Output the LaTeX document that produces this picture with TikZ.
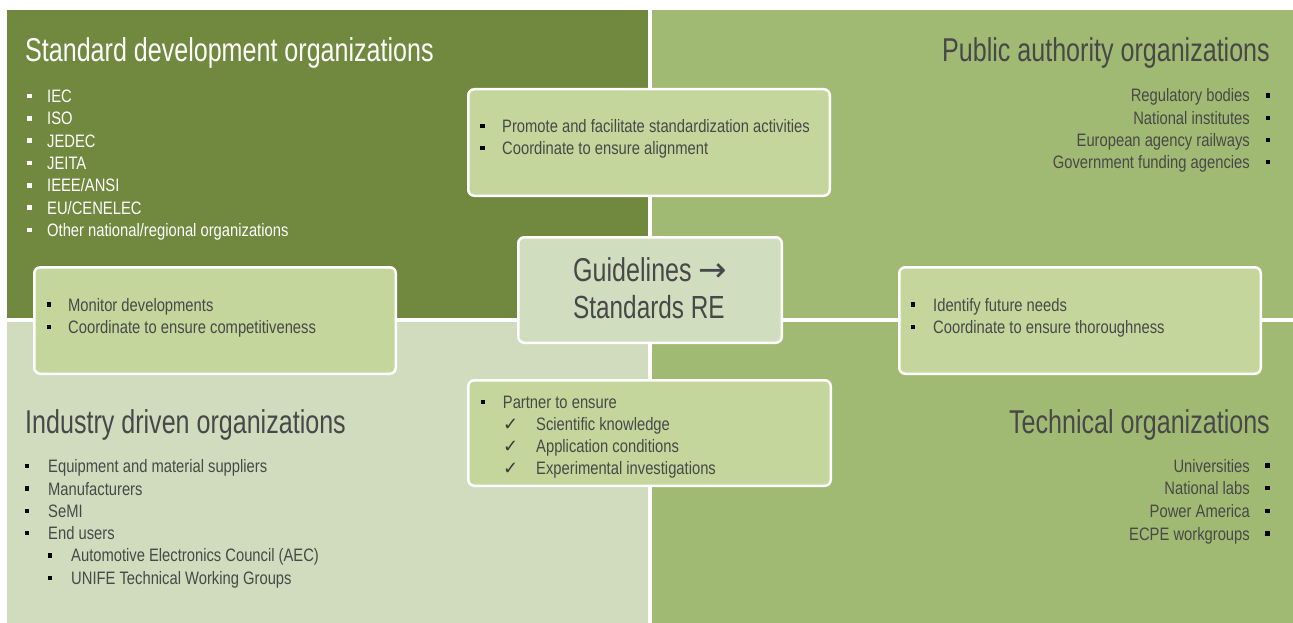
\documentclass[tikz,border=0pt]{standalone}
\usepackage{fontspec}
\setmainfont{Liberation Sans}[FakeStretch=0.82]
\newfontfamily\ttlfont{Liberation Sans}[FakeStretch=0.76]
\newfontfamily\symfont{DejaVu Sans}
\definecolor{dkolive}{RGB}{113,137,63}
\definecolor{midgreen}{RGB}{161,186,115}
\definecolor{palegreen}{RGB}{208,220,189}
\definecolor{boxgreen}{RGB}{196,214,156}
\definecolor{centergreen}{RGB}{208,221,190}
\definecolor{txt}{RGB}{72,72,72}
\tikzset{
  quad/.style={fill=#1, draw=none},
  box/.style={draw=white, line width=2.5pt, rounded corners=6pt, fill=#1, inner sep=0pt},
  ttl/.style={inner sep=0pt, font=\ttlfont\fontsize{33}{36}\selectfont, text=#1},
  itm/.style={inner sep=0pt, font=\fontsize{18}{22}\selectfont, text=#1},
  bul/.style={fill=#1, draw=none, inner sep=0pt, minimum size=4.6pt},
  bbul/.style={fill=black, draw=none, inner sep=0pt, minimum size=4.3pt},
  chk/.style={inner sep=0pt, font=\symfont\fontsize{18}{20}\selectfont, text=txt!80!black},
}
\begin{document}
\begin{tikzpicture}[x=1pt,y=-1pt]
\fill[white] (0,0) rectangle (1293,623);
\useasboundingbox (0,0) rectangle (1293,623);
% quadrants
\fill[quad=dkolive] (7,10) rectangle (648,318);
\fill[quad=midgreen] (652,10) rectangle (1293,318);
\fill[quad=palegreen] (7,322) rectangle (648,623);
\fill[quad=midgreen] (652,322) rectangle (1293,623);
% titles
\node[ttl=white, anchor=base west] (tltitle) at (25,62) {Standard development organizations};
\node[ttl=txt, anchor=base east] (trtitle) at (1270,62) {Public authority organizations};
\node[ttl=txt, anchor=base west] (bltitle) at (25,433) {Industry driven organizations};
\node[ttl=txt, anchor=base east] (brtitle) at (1270,433) {Technical organizations};
% top-left list
\foreach \t [count=\i] in {IEC,ISO,JEDEC,JEITA,IEEE/ANSI,EU/CENELEC,Other national/regional organizations}{
  \node[itm=white, anchor=base west] (tl\i) at (47,{102.7+22.3*(\i-1)}) {\t};
  \node[bul=white] (tlb\i) at (29.3,{102.7+22.3*(\i-1)-6.5}) {};
}
% top-right list
\foreach \t [count=\i] in {Regulatory bodies,National institutes,European agency railways,Government funding agencies}{
  \node[itm=txt, anchor=base east] (tr\i) at (1250,{102+22.2*(\i-1)}) {\t};
  \node[bbul] (trb\i) at (1268,{102+22.2*(\i-1)-6.5}) {};
}
% bottom-left list
\foreach \t [count=\i] in {Equipment and material suppliers,Manufacturers,SeMI,End users}{
  \node[itm=txt, anchor=base west] (bl\i) at (48,{472.7+22.3*(\i-1)}) {\t};
  \node[bbul] (blb\i) at (27.2,{472.7+22.3*(\i-1)-6.5}) {};
}
\foreach \t [count=\i] in {Automotive Electronics Council (AEC),UNIFE Technical Working Groups}{
  \node[itm=txt, anchor=base west] (bls\i) at (71,{561.9+22.3*(\i-1)}) {\t};
  \node[bbul] (blsb\i) at (50.3,{561.9+22.3*(\i-1)-6.5}) {};
}
% bottom-right list
\foreach \t [count=\i] in {Universities,National labs,Power America,ECPE workgroups}{
  \node[itm=txt, anchor=base east] (br\i) at (1250,{472+22.7*(\i-1)}) {\t};
  \node[bbul] (brb\i) at (1267.5,{472+22.7*(\i-1)-6.5}) {};
}
% boxes
\node[box=boxgreen, minimum width=361.5pt, minimum height=106.5pt] (topbox) at (649,142.5) {};
\node[box=boxgreen, minimum width=361.5pt, minimum height=106.5pt] (leftbox) at (215,320.5) {};
\node[box=centergreen, minimum width=263.5pt, minimum height=105.5pt] (centerbox) at (650,290) {};
\node[box=boxgreen, minimum width=361.5pt, minimum height=106.5pt] (rightbox) at (1080,320.5) {};
\node[box=boxgreen, minimum width=362.5pt, minimum height=105.5pt] (bottombox) at (649.5,433) {};
% top box text
\foreach \t [count=\i] in {Promote and facilitate standardization activities,Coordinate to ensure alignment}{
  \node[itm=txt, anchor=base west] (tb\i) at (502,{132.3+22.3*(\i-1)}) {\t};
  \node[bbul] (tbb\i) at (482.5,{132.3+22.3*(\i-1)-6.5}) {};
}
% left box text
\foreach \t [count=\i] in {Monitor developments,Coordinate to ensure competitiveness}{
  \node[itm=txt, anchor=base west] (lb\i) at (68,{311+22.3*(\i-1)}) {\t};
  \node[bbul] (lbb\i) at (48.7,{311+22.3*(\i-1)-6.5}) {};
}
% right box text
\foreach \t [count=\i] in {Identify future needs,Coordinate to ensure thoroughness}{
  \node[itm=txt, anchor=base west] (rb\i) at (933,{311+22.3*(\i-1)}) {\t};
  \node[bbul] (rbb\i) at (913,{311+22.3*(\i-1)-6.5}) {};
}
% bottom box text
\node[itm=txt, anchor=base west] (bb0) at (502.7,408.3) {Partner to ensure};
\node[bbul] (bbb0) at (483,401.8) {};
\foreach \t [count=\i] in {Scientific knowledge,Application conditions,Experimental investigations}{
  \node[itm=txt, anchor=base west] (bb\i) at (536,{430.7+22*(\i-1)}) {\t};
  \node[chk, anchor=base west] (bbc\i) at (503,{430.7+22*(\i-1)}) {✓};
}
% center text
\node[inner sep=0pt, anchor=base west, text=txt, font=\ttlfont\fontsize{33}{36}\selectfont] (guide) at (573,281) {Guidelines {\symfont\fontsize{34}{36}\selectfont →}};
\node[inner sep=0pt, anchor=base west, text=txt, font=\ttlfont\fontsize{32}{36}\selectfont] (stdre) at (573,318) {Standards RE};
\end{tikzpicture}
\end{document}
